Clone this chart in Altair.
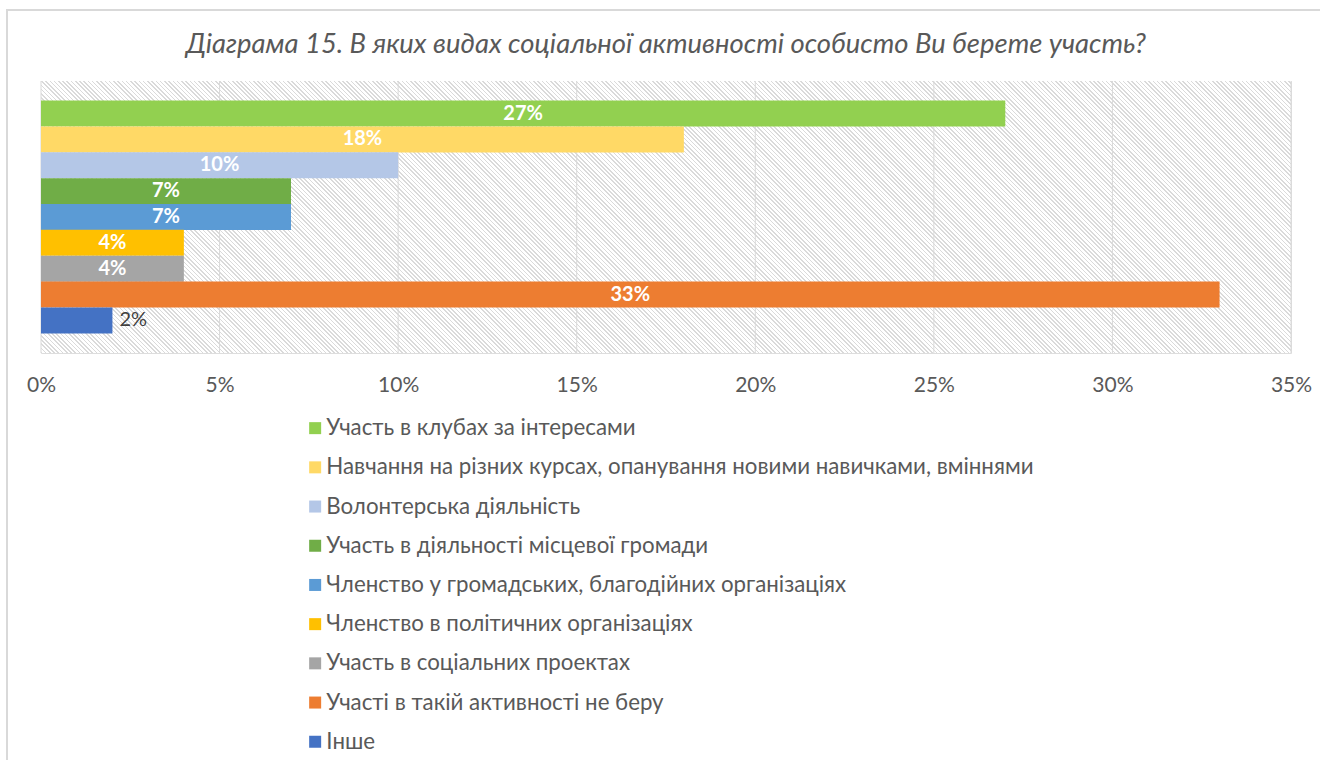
import altair as alt
import pandas as pd

# ---------------- data ----------------
categories = [
    "Участь в клубах за інтересами",
    "Навчання на різних курсах, опанування новими навичками, вміннями",
    "Волонтерська діяльність",
    "Участь в діяльності місцевої громади",
    "Членство у громадських, благодійних організаціях",
    "Членство в політичних організаціях",
    "Участь в соціальних проектах",
    "Участі в такій активності не беру",
    "Інше",
]
values = [27, 18, 10, 7, 7, 4, 4, 33, 2]
colors = ["#92D050", "#FFD966", "#B4C7E7", "#70AD47", "#5B9BD5",
          "#FFC000", "#A5A5A5", "#ED7D31", "#4472C4"]
x_ticks = [0, 5, 10, 15, 20, 25, 30, 35]
title_text = "Діаграма 15. В яких видах соціальної активності особисто Ви берете участь?"

# ---------------- layout ----------------
W, H = 1250, 272
FONT = "Lato"
GREY = "#595959"
GRID = "#D9D9D9"

df = pd.DataFrame({"cat": categories, "value": values})
ticks_df = pd.DataFrame({"t": x_ticks})
one = pd.DataFrame({"title": [title_text]})

# hatched background as a fine diagonal striped gradient (45 deg, "\" direction)
r = H / W
a = (1 + r) / (1 + r * r)
perp = (W + H) / (2 ** 0.5)
period = 3.0 / perp
lw = 1.1 / perp
stops = []
k = 0
while k * period < 1:
    o = k * period
    stops.append({"offset": round(min(o, 1), 6), "color": "#DADADA"})
    stops.append({"offset": round(min(o + lw, 1), 6), "color": "#DADADA"})
    stops.append({"offset": round(min(o + lw, 1), 6), "color": "#FFFFFF"})
    stops.append({"offset": round(min(o + period, 1), 6), "color": "#FFFFFF"})
    k += 1
hatch = {"gradient": "linear", "x1": 0, "y1": 1, "x2": a, "y2": 1 - a * r,
         "stops": stops}

xscale = alt.Scale(domain=[0, 35], nice=False, zero=True)
yscale = alt.Scale(domain=categories, paddingInner=0, paddingOuter=0.76)

bg = alt.Chart(one).mark_rect(fill=hatch, stroke=None).encode(
    x=alt.datum(0, scale=xscale),
    x2=alt.datum(35),
    y=alt.value(0),
    y2=alt.value(H),
)

grid = alt.Chart(ticks_df).mark_rule(color=GRID, strokeWidth=1).encode(
    x=alt.X("t:Q", scale=xscale, title=None),
    y=alt.value(0),
    y2=alt.value(H),
)

bars = alt.Chart(df).mark_bar(size=26).encode(
    x=alt.X("value:Q", scale=xscale, title=None,
            axis=alt.Axis(values=x_ticks, labelExpr="datum.value + '%'",
                          grid=False, ticks=False, domain=False,
                          labelFlush=False,
                          labelPadding=21, labelFontSize=21,
                          labelColor=GREY, labelFont=FONT)),
    y=alt.Y("cat:N", scale=yscale, axis=None, sort=categories),
    color=alt.Color("cat:N", scale=alt.Scale(domain=categories, range=colors),
                    sort=categories,
                    legend=alt.Legend(title=None, orient="none",
                                      legendX=263, legendY=336,
                                      symbolType="square", symbolSize=144,
                                      symbolStrokeWidth=0, labelFontSize=22.3,
                                      labelFont=FONT, labelColor=GREY,
                                      labelLimit=1200, rowPadding=16.2,
                                      labelOffset=0)),
)

inner = alt.Chart(df).transform_filter("datum.value >= 3").transform_calculate(
    mid="datum.value / 2", lab="datum.value + '%'"
).mark_text(color="white", fontWeight="bold", fontSize=20, font=FONT,
            baseline="middle", align="center").encode(
    x=alt.X("mid:Q", scale=xscale, title=None),
    y=alt.Y("cat:N", scale=yscale, sort=categories),
    text="lab:N",
)

outer = alt.Chart(df).transform_filter("datum.value < 3").transform_calculate(
    lab="datum.value + '%'"
).mark_text(color="#404040", fontSize=20, font=FONT, baseline="middle",
            align="left", dx=7).encode(
    x=alt.X("value:Q", scale=xscale, title=None),
    y=alt.Y("cat:N", scale=yscale, sort=categories),
    text="lab:N",
)

title = alt.Chart(one).mark_text(font=FONT, fontSize=27.4, fontStyle="italic",
                                 fontWeight="normal", color=GREY, align="center",
                                 baseline="middle").encode(
    x=alt.value(W / 2), y=alt.value(-36), text="title:N",
)

frame = alt.Chart(one).mark_rect(fill=None, stroke=GRID, strokeWidth=2).encode(
    x=alt.value(-34), x2=alt.value(W + 60),
    y=alt.value(-71), y2=alt.value(H + 460),
)

chart = alt.layer(frame, bg, grid, bars, inner, outer, title).properties(
    width=W, height=H,
    autosize=alt.AutoSizeParams(type="none"),
    padding={"left": 41, "top": 81, "right": 29, "bottom": 407},
).configure_view(stroke=GRID, strokeWidth=1).configure(background="white")

chart.save("out.html", embed_options={"renderer": "svg", "actions": False})
